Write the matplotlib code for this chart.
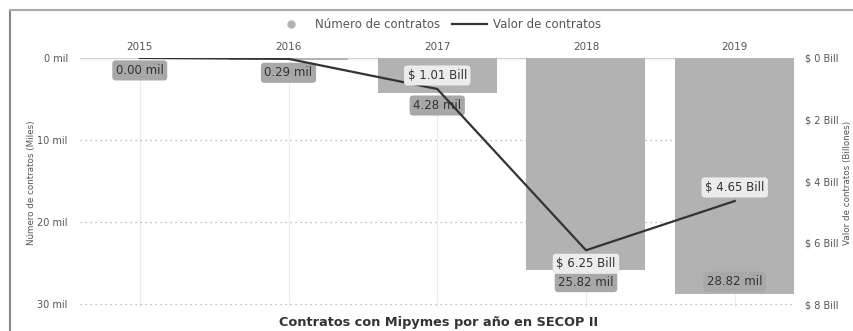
import matplotlib
matplotlib.use("Agg")
import matplotlib.pyplot as plt
from matplotlib.lines import Line2D
import numpy as np

years = ["2015", "2016", "2017", "2018", "2019"]
num_contratos = [0.00, 0.29, 4.28, 25.82, 28.82]      # miles
valor_contratos = [0.00, 0.03, 1.01, 6.25, 4.65]      # billones
left_ticks = [0, 10, 20, 30]
left_ticklabels = ["0 mil", "10 mil", "20 mil", "30 mil"]
right_ticks = [0, 2, 4, 6, 8]
right_ticklabels = ["$ 0 Bill", "$ 2 Bill", "$ 4 Bill", "$ 6 Bill", "$ 8 Bill"]

plt.rcParams["font.family"] = ["DejaVu Sans"]
fig = plt.figure(figsize=(8.54, 3.31), dpi=100)
ax = fig.add_axes([0.094, 0.072, 0.836, 0.753])
ax2 = ax.twinx()

x = np.arange(len(years))
bar_color = "#b2b2b2"
ax.bar(x, num_contratos, width=0.8, color=bar_color, zorder=2)

ax.set_xlim(-0.4, 4.4)
ax.set_ylim(30.4, 0)
ax2.set_ylim(8.1, 0)

# grid
for t in left_ticks:
    if t == 0:
        ax.axhline(t, color="#d0d0d0", lw=1.0, zorder=1)
    else:
        ax.axhline(t, color="#aaaaaa", lw=0.9, ls=(0, (1, 3)), zorder=1)
for xi in x:
    ax.axvline(xi, color="#ececec", lw=0.8, zorder=0)

ax.set_yticks(left_ticks)
ax.set_yticklabels(left_ticklabels, fontsize=7, color="#555555")
ax2.set_yticks(right_ticks)
ax2.set_yticklabels(right_ticklabels, fontsize=7, color="#555555")
ax.set_xticks(x)
ax.set_xticklabels(years, fontsize=7.5, color="#555555")
ax.xaxis.tick_top()
for a in (ax, ax2):
    a.tick_params(length=0, pad=8)
    for s in a.spines.values():
        s.set_visible(False)
ax.tick_params(axis="y", pad=9)
ax.tick_params(axis="x", pad=4)

ax.set_ylabel("Número de contratos (Miles)", fontsize=6.3, color="#555555", labelpad=1)
ax2.set_ylabel("Valor de contratos (Billones)", fontsize=6.3, color="#555555", labelpad=3)

# line
ax2.plot(x, valor_contratos, color="#333333", lw=1.6, zorder=5)

# labels for number of contracts
for xi, v in zip(x, num_contratos):
    off = -12 if v + 2.0 > 30 else 12
    ax.annotate(f"{v:.2f} mil", (xi, v), xytext=(0, -off * 0.75), textcoords="offset points",
                ha="center", va="center", fontsize=8.5, color="#333333", zorder=6,
                bbox=dict(boxstyle="round,pad=0.3", fc="#a8a8a8", ec="none"))

# labels for value
vmax = max(valor_contratos)
for xi, v in zip(x, valor_contratos):
    if v < 0.5:
        continue
    off = -13 if v == vmax else 13
    ax2.annotate(f"$ {v:.2f} Bill", (xi, v), xytext=(0, off * 0.75), textcoords="offset points",
                 ha="center", va="center", fontsize=8.5, color="#333333", zorder=7,
                 bbox=dict(boxstyle="round,pad=0.3", fc="#ececec", ec="none"))
ax2.set_zorder(ax.get_zorder() + 1)
ax2.patch.set_visible(False)

# legend
handles = [Line2D([], [], marker="o", ls="none", color="#b2b2b2", markersize=5),
           Line2D([], [], color="#333333", lw=1.6)]
fig.legend(handles, ["Número de contratos", "Valor de contratos"], loc="center",
           bbox_to_anchor=(0.512, 0.925), ncol=2, frameon=False, fontsize=8.5,
           handlelength=3, columnspacing=1.0, handletextpad=0.5, labelcolor="#555555")

fig.text(0.513, 0.027, "Contratos con Mipymes por año en SECOP II", ha="center", va="center",
         fontsize=9.3, fontweight="bold", color="#333333")

# frame
fig.add_artist(Line2D([0.012, 0.012], [0.0, 0.97], transform=fig.transFigure, color="#888888", lw=1.5))
fig.add_artist(Line2D([0.012, 1.0], [0.97, 0.97], transform=fig.transFigure, color="#aaaaaa", lw=1.5))

fig.savefig("out.png", dpi=100)
